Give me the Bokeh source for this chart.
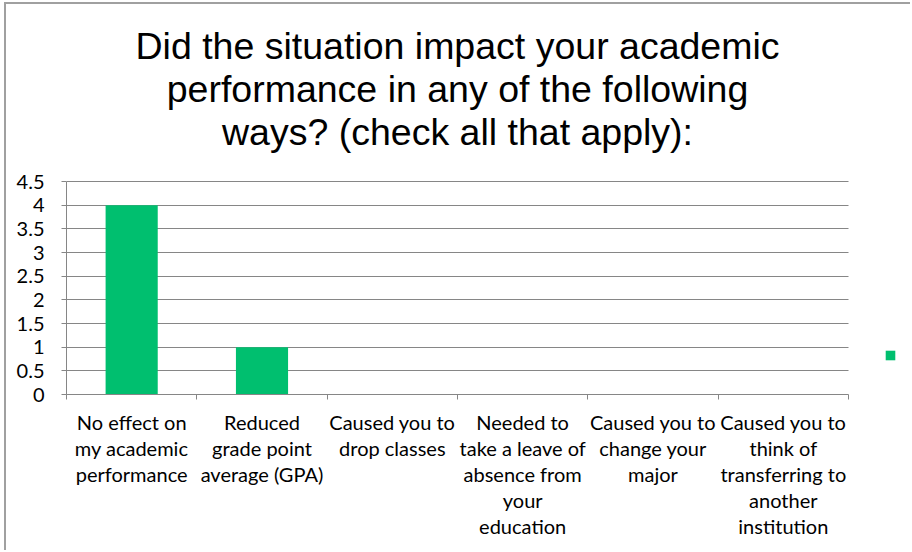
from bokeh.plotting import figure
from bokeh.models import ColumnDataSource, FixedTicker, Range1d, Label, Legend, LegendItem, NumeralTickFormatter
from bokeh.core.properties import value
from bokeh.embed import file_html
from bokeh.resources import INLINE

categories = [
    "No effect on\nmy academic\nperformance",
    "Reduced\ngrade point\naverage (GPA)",
    "Caused you to\ndrop classes",
    "Needed to\ntake a leave of\nabsence from\nyour\neducation",
    "Caused you to\nchange your\nmajor",
    "Caused you to\nthink of\ntransferring to\nanother\ninstitution",
]
counts = [4, 1, 0, 0, 0, 0]
y_ticks = [0, 0.5, 1, 1.5, 2, 2.5, 3, 3.5, 4, 4.5]
title_lines = [
    "Did the situation impact your academic",
    "performance in any of the following",
    "ways? (check all that apply):",
]

GREEN = "#00BF6F"
GRAY = "#868686"

n = len(categories)
positions = [i + 0.5 for i in range(n)]
boundaries = list(range(n + 1))
src = ColumnDataSource(dict(x=positions, top=counts))

# layout (pixels inside the figure)
W, H = 906, 548
FL, FR, FT, FB = 60, 904, 2, 390        # frame edges
CAT_R = 842                              # right end of the category axis
GRID_T = 177                             # pixel of the top value (4.5)
y_max = y_ticks[-1]
x_end = n * (FR - FL) / (CAT_R - FL)
y_end = y_max * (FB - FT) / (FB - GRID_T)

p = figure(width=W, height=H, output_backend="svg", toolbar_location=None,
           x_range=Range1d(0, x_end), y_range=Range1d(0, y_end),
           title=None, min_border_left=FL, min_border_right=W - FR,
           min_border_bottom=H - FB, min_border_top=FT)
p.styles = {"border-left": "2px solid #A0A0A0", "border-top": "2px solid #A0A0A0",
            "margin-left": "4px", "margin-top": "2px"}

r = p.vbar(x="x", top="top", width=0.4, source=src, fill_color=GREEN, line_color=None)

for line, base in zip(title_lines, [349, 306, 263]):
    p.add_layout(Label(x=n / 2, x_units="data", y=base, y_units="screen", text=line,
                       text_align="center", text_baseline="alphabetic",
                       text_font="Liberation Sans", text_font_size="37.5px",
                       text_color="#000000"))

p.outline_line_color = None
p.xgrid.visible = False
p.ygrid.ticker = FixedTicker(ticks=y_ticks)
p.ygrid.grid_line_color = GRAY
p.ygrid.grid_line_width = 1
p.ygrid.cross_bounds = (0, n)

ya = p.yaxis[0]
ya.ticker = FixedTicker(ticks=y_ticks)
ya.bounds = (0, y_max)
ya.formatter = NumeralTickFormatter(format="0.[0]")
ya.axis_line_color = GRAY
ya.major_tick_line_color = GRAY
ya.major_tick_out = 5
ya.major_tick_in = 0
ya.minor_tick_line_color = None
ya.major_label_standoff = 17
ya.major_label_text_font = "Lato"
ya.major_label_text_font_size = "20px"
ya.major_label_text_color = "#000000"

xa = p.xaxis[0]
xa.ticker = FixedTicker(ticks=positions, minor_ticks=boundaries)
xa.bounds = (0, n)
xa.major_label_overrides = {pos: cat for pos, cat in zip(positions, categories)}
xa.axis_line_color = GRAY
xa.major_tick_line_color = None
xa.major_tick_out = 0
xa.major_tick_in = 0
xa.minor_tick_line_color = GRAY
xa.minor_tick_out = 5
xa.minor_tick_in = 0
xa.major_label_standoff = 10
xa.major_label_text_font = "Lato"
xa.major_label_text_font_size = "20px"
xa.major_label_text_line_height = 1.09
xa.major_label_text_color = "#000000"

legend = Legend(items=[LegendItem(label=value("\u00a0"), renderers=[r])],
                location=(818, 33), glyph_width=12, glyph_height=12,
                padding=0, margin=0, spacing=0, border_line_color=None,
                background_fill_alpha=0, label_text_font_size="8px",
                label_height=12, label_standoff=0, label_width=1)
p.add_layout(legend, "center")

open("out.html", "w").write(file_html(p, INLINE))
